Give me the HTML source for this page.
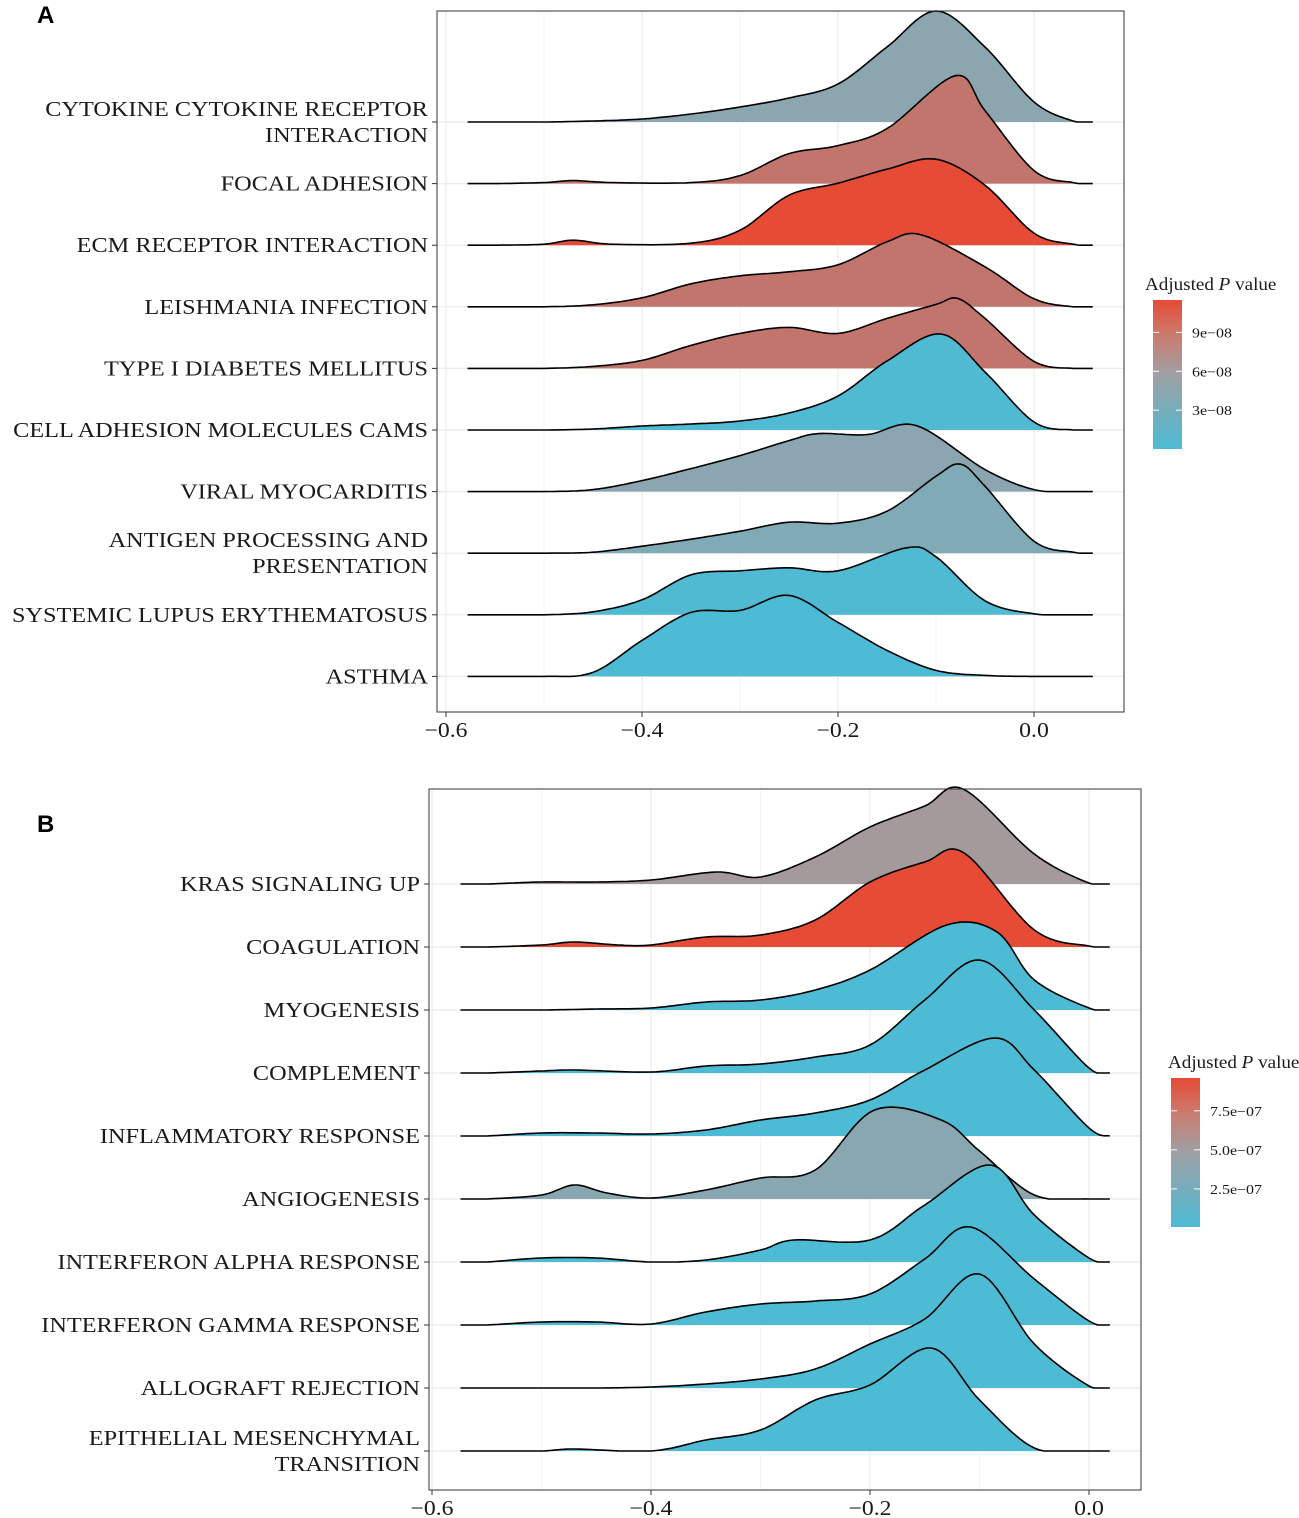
<!DOCTYPE html>
<html><head><meta charset="utf-8"><style>
body{margin:0;background:#fff;}
svg{display:block;font-family:"Liberation Serif",serif;}
</style></head><body>
<svg id="chart" width="1299" height="1518" viewBox="0 0 1299 1518" xmlns="http://www.w3.org/2000/svg">
<defs>
<linearGradient id="gradA" x1="0" y1="1" x2="0" y2="0"><stop offset="0" stop-color="#4DBBD5"/><stop offset="0.5" stop-color="#9EA0A4"/><stop offset="0.75" stop-color="#C97E72"/><stop offset="1" stop-color="#E64B35"/></linearGradient>
<linearGradient id="gradB" x1="0" y1="1" x2="0" y2="0"><stop offset="0" stop-color="#4DBBD5"/><stop offset="0.5" stop-color="#9EA0A4"/><stop offset="0.75" stop-color="#C97E72"/><stop offset="1" stop-color="#E64B35"/></linearGradient>
</defs>
</svg>
<script>
// ---- Panel A data ----
const catsA = ["CYTOKINE CYTOKINE RECEPTOR|INTERACTION","FOCAL ADHESION","ECM RECEPTOR INTERACTION","LEISHMANIA INFECTION","TYPE I DIABETES MELLITUS","CELL ADHESION MOLECULES CAMS","VIRAL MYOCARDITIS","ANTIGEN PROCESSING AND|PRESENTATION","SYSTEMIC LUPUS ERYTHEMATOSUS","ASTHMA"];
const pvalsA = [4.5e-8,7.6e-8,1.15e-7,7.6e-8,7.6e-8,2e-9,4.4e-8,3.6e-8,2e-9,1e-9];
const densA = [
 [[-0.55,0],[-0.5,0],[-0.45,1],[-0.4,3],[-0.35,8],[-0.3,15],[-0.25,24],[-0.2,38],[-0.15,75],[-0.1,111],[-0.05,75],[0,20],[0.04,1]],
 [[-0.55,0],[-0.5,1],[-0.47,3],[-0.43,1],[-0.35,1],[-0.3,8],[-0.25,30],[-0.2,38],[-0.15,55],[-0.08,108],[-0.05,73],[0,13],[0.04,1]],
 [[-0.55,0],[-0.5,1],[-0.47,5],[-0.43,1],[-0.35,2],[-0.3,15],[-0.25,50],[-0.2,62],[-0.15,76],[-0.1,86],[-0.05,60],[0,12],[0.04,1]],
 [[-0.55,0],[-0.5,0],[-0.45,2],[-0.4,9],[-0.35,23],[-0.3,31],[-0.25,35],[-0.2,42],[-0.15,65],[-0.115,72],[-0.05,40],[0,8],[0.04,0]],
 [[-0.55,0],[-0.5,0],[-0.45,2],[-0.4,8],[-0.35,23],[-0.3,35],[-0.25,41],[-0.2,35],[-0.15,50],[-0.1,64],[-0.078,70],[-0.05,50],[0,7],[0.04,0]],
 [[-0.55,0],[-0.5,0],[-0.45,1],[-0.4,4],[-0.35,6],[-0.3,9],[-0.25,17],[-0.2,34],[-0.15,69],[-0.095,96],[-0.05,58],[0,8],[0.04,0]],
 [[-0.55,0],[-0.5,0],[-0.45,2],[-0.4,11],[-0.35,23],[-0.3,36],[-0.25,51],[-0.22,58],[-0.17,57],[-0.12,66],[-0.05,22],[0,2],[0.04,0]],
 [[-0.55,0],[-0.5,0],[-0.45,1],[-0.4,7],[-0.35,14],[-0.3,22],[-0.25,31],[-0.2,30],[-0.15,42],[-0.1,77],[-0.075,89],[-0.05,67],[0,12],[0.04,1]],
 [[-0.55,0],[-0.5,0],[-0.45,3],[-0.4,15],[-0.35,40],[-0.3,44],[-0.25,47],[-0.2,44],[-0.13,67],[-0.1,58],[-0.05,14],[0,1],[0.04,0]],
 [[-0.55,0],[-0.5,0],[-0.45,4],[-0.4,36],[-0.35,64],[-0.3,66],[-0.25,81],[-0.2,54],[-0.15,26],[-0.1,6],[-0.05,1],[0,0],[0.04,0]]
];
const ticksA = [-0.6,-0.4,-0.2,0.0];
const legendTicksA = [3e-8,6e-8,9e-8];
const legendLabelsA = ["3e\u221208","6e\u221208","9e\u221208"];

// ---- Panel B data ----
const catsB = ["KRAS SIGNALING UP","COAGULATION","MYOGENESIS","COMPLEMENT","INFLAMMATORY RESPONSE","ANGIOGENESIS","INTERFERON ALPHA RESPONSE","INTERFERON GAMMA RESPONSE","ALLOGRAFT REJECTION","EPITHELIAL MESENCHYMAL|TRANSITION"];
const pvalsB = [4.9e-7,9.6e-7,1e-8,1e-8,1e-8,3.6e-7,1e-8,1e-8,1e-8,1e-8];
const densB = [
 [[-0.55,0],[-0.5,2],[-0.45,2],[-0.4,4],[-0.34,12],[-0.3,7],[-0.25,27],[-0.2,57],[-0.15,78],[-0.115,95],[-0.05,30],[0,1]],
 [[-0.55,0],[-0.5,2],[-0.47,5],[-0.43,2],[-0.4,2],[-0.35,10],[-0.3,12],[-0.25,27],[-0.2,65],[-0.15,85],[-0.114,94],[-0.05,17],[0,1]],
 [[-0.55,0],[-0.5,0],[-0.45,1],[-0.4,2],[-0.35,8],[-0.3,10],[-0.25,20],[-0.2,40],[-0.13,85],[-0.084,78],[-0.05,30],[0,2]],
 [[-0.55,0],[-0.5,2],[-0.47,3],[-0.4,1],[-0.35,7],[-0.3,9],[-0.25,16],[-0.2,28],[-0.15,73],[-0.1,113],[-0.05,63],[0,5]],
 [[-0.55,0],[-0.5,3],[-0.45,3],[-0.4,2],[-0.35,6],[-0.3,16],[-0.25,23],[-0.2,36],[-0.15,66],[-0.086,98],[-0.05,66],[0,8]],
 [[-0.55,0],[-0.5,4],[-0.47,14],[-0.44,6],[-0.4,1],[-0.35,9],[-0.3,21],[-0.25,29],[-0.196,89],[-0.135,79],[-0.1,48],[-0.05,4],[0,0]],
 [[-0.55,0],[-0.5,4],[-0.45,4],[-0.4,0],[-0.35,2],[-0.3,12],[-0.27,22],[-0.2,22],[-0.15,57],[-0.09,97],[-0.05,47],[0,4]],
 [[-0.55,0],[-0.5,3],[-0.45,3],[-0.4,1],[-0.35,13],[-0.3,21],[-0.25,24],[-0.2,31],[-0.15,66],[-0.108,98],[-0.05,46],[0,4]],
 [[-0.55,0],[-0.5,0],[-0.45,0],[-0.4,1],[-0.35,4],[-0.3,9],[-0.25,19],[-0.2,44],[-0.15,69],[-0.1,114],[-0.05,44],[0,2]],
 [[-0.55,0],[-0.5,0],[-0.47,2],[-0.4,0],[-0.35,11],[-0.3,21],[-0.25,51],[-0.2,66],[-0.144,103],[-0.1,51],[-0.05,3],[0,0]]
];
const ticksB = [-0.6,-0.4,-0.2,0.0];
const legendTicksB = [2.5e-7,5e-7,7.5e-7];
const legendLabelsB = ["2.5e\u221207","5.0e\u221207","7.5e\u221207"];

const NS="http://www.w3.org/2000/svg";
const svg=document.getElementById('chart');
function mk(tag,attrs,parent){const e=document.createElementNS(NS,tag);for(const k in attrs)e.setAttribute(k,attrs[k]);(parent||svg).appendChild(e);return e;}
function stretch(t,f){const w=t.getComputedTextLength();t.setAttribute('textLength',(w*f).toFixed(1));t.setAttribute('lengthAdjust','spacingAndGlyphs');}

function lerp(a,b,t){return a+(b-a)*t;}
function colorFor(p,pmin,pmax){
  let t=Math.max(0,Math.min(1,(p-pmin)/(pmax-pmin)));
  const blue=[77,187,213],mid=[158,160,164],red=[230,75,53];
  let c; if(t<0.5){const u=t/0.5;c=blue.map((v,i)=>lerp(v,mid[i],u));}else{const u=Math.pow((t-0.5)/0.5,0.6);c=mid.map((v,i)=>lerp(v,red[i],u));}
  return 'rgb('+c.map(Math.round).join(',')+')';
}
function smooth(pts){
  const out=[];
  for(let i=0;i<pts.length-1;i++){
    const p0=pts[Math.max(0,i-1)],p1=pts[i],p2=pts[i+1],p3=pts[Math.min(pts.length-1,i+2)];
    for(let s=0;s<12;s++){
      const t=s/12,t2=t*t,t3=t2*t;
      const f=(a,b,c,d)=>0.5*((2*b)+(-a+c)*t+(2*a-5*b+4*c-d)*t2+(-a+3*b-3*c+d)*t3);
      out.push([f(p0[0],p1[0],p2[0],p3[0]),Math.max(0,f(p0[1],p1[1],p2[1],p3[1]))]);
    }
  }
  out.push(pts[pts.length-1]);
  return out;
}

function panel(cfg){
  const {cats,pvals,dens,ticks,x0px,pxPer,left,right,top,bottom,base0,gap,xmin,xmax,hscale,labelX,legX,legTitleX,legTop,legBot,legMin,legMax,legTicks,legLabels,grad,name}=cfg;
  const g=mk('g',{});
  
  
  const X=v=>x0px+(v+0.6)*pxPer;
  for(let k=-7;k<=2;k++){
    const v=k/10;const px=X(v); if(px<=left||px>=right) continue;
    const major=(k%2===0);
    mk('line',{x1:px,x2:px,y1:top,y2:bottom,stroke:major?'#EBEBEB':'#F4F4F4','stroke-width':major?1.2:0.8},g);
  }
  cats.forEach((c,i)=>{const y=base0+i*gap;mk('line',{x1:left,x2:right,y1:y,y2:y,stroke:'#EBEBEB','stroke-width':1.2},g);});
  dens.forEach((d,i)=>{
    const by=base0+i*gap;
    const pts=[[xmin,0]].concat(d).concat([[xmax,0]]);
    const sm=smooth(pts);
    let dd='M'+X(xmin)+','+by;
    sm.forEach(p=>{dd+=' L'+X(p[0]).toFixed(1)+','+(by-p[1]*hscale).toFixed(1);});
    const fill=mk('path',{d:dd+' L'+X(xmax)+','+by+' Z',fill:colorFor(pvals[i],legMin,legMax),stroke:'none'},g);
    
    
    const ln=mk('path',{d:dd,fill:'none',stroke:'#000','stroke-width':1.6},g);
    
    
  });
  mk('rect',{x:left,y:top,width:right-left,height:bottom-top,fill:'none',stroke:'#333','stroke-width':1},g);
  cats.forEach((c,i)=>{
    const y=base0+i*gap;
    mk('line',{x1:left-5,x2:left,y1:y,y2:y,stroke:'#333','stroke-width':1},g);
    const parts=c.split('|');
    parts.forEach((p,j)=>{
      const ty=y+7+(j-(parts.length-1)/2)*26;
      const t=mk('text',{x:labelX,y:ty,'text-anchor':'end','font-size':21,fill:'#1a1a1a'},g);
      t.textContent=p;
      
      
      stretch(t,1.155);
    });
  });
  ticks.forEach(v=>{
    const px=X(v);
    mk('line',{x1:px,x2:px,y1:bottom,y2:bottom+5,stroke:'#333','stroke-width':1},g);
    const t=mk('text',{x:px,y:bottom+25,'text-anchor':'middle','font-size':21,fill:'#1a1a1a'},g);
    t.textContent=(v<0?'\u2212':'')+Math.abs(v).toFixed(1);
    
    
    stretch(t,1.13);
  });
  const lg=mk('g',{},g);
  
  
  const tt=mk('text',{x:legTitleX,y:legTop-10,'font-size':18,fill:'#1a1a1a'},lg);
  tt.innerHTML='Adjusted <tspan font-style="italic">P</tspan> value';
  stretch(tt,1.06);
  mk('rect',{x:legX,y:legTop,width:29,height:legBot-legTop,fill:'url(#'+grad+')'},lg);
  const LY=v=>legBot-(v-legMin)/(legMax-legMin)*(legBot-legTop);
  legTicks.forEach((v,k)=>{
    const y=LY(v);
    mk('line',{x1:legX,x2:legX+6,y1:y,y2:y,stroke:'#fff','stroke-width':1},lg);
    mk('line',{x1:legX+23,x2:legX+29,y1:y,y2:y,stroke:'#fff','stroke-width':1},lg);
    const t=mk('text',{x:legX+39,y:y+5,'font-size':14,fill:'#1a1a1a'},lg);
    t.textContent=legLabels[k];
    stretch(t,1.14);
  });
}

panel({name:'panel-a',cats:catsA,pvals:pvalsA,dens:densA,ticks:ticksA,x0px:446,pxPer:980,left:437,right:1124,top:11,bottom:712,base0:122,gap:61.6,xmin:-0.578,xmax:0.060,hscale:1,labelX:428,legX:1153,legTitleX:1145,legTop:300,legBot:449,legMin:0,legMax:1.15e-7,legTicks:legendTicksA,legLabels:legendLabelsA,grad:'gradA'});
panel({name:'panel-b',cats:catsB,pvals:pvalsB,dens:densB,ticks:ticksB,x0px:432,pxPer:1095,left:429,right:1141,top:789,bottom:1490,base0:884,gap:63,xmin:-0.574,xmax:0.019,hscale:1,labelX:420,legX:1171,legTitleX:1168,legTop:1078,legBot:1227,legMin:6e-9,legMax:9.6e-7,legTicks:legendTicksB,legLabels:legendLabelsB,grad:'gradB'});

const la=mk('text',{x:37,y:23,'font-size':24,'font-weight':'bold','font-family':'Liberation Sans, sans-serif'});
la.textContent='A';


const lb=mk('text',{x:37,y:832,'font-size':24,'font-weight':'bold','font-family':'Liberation Sans, sans-serif'});
lb.textContent='B';


</script>
</body></html>
